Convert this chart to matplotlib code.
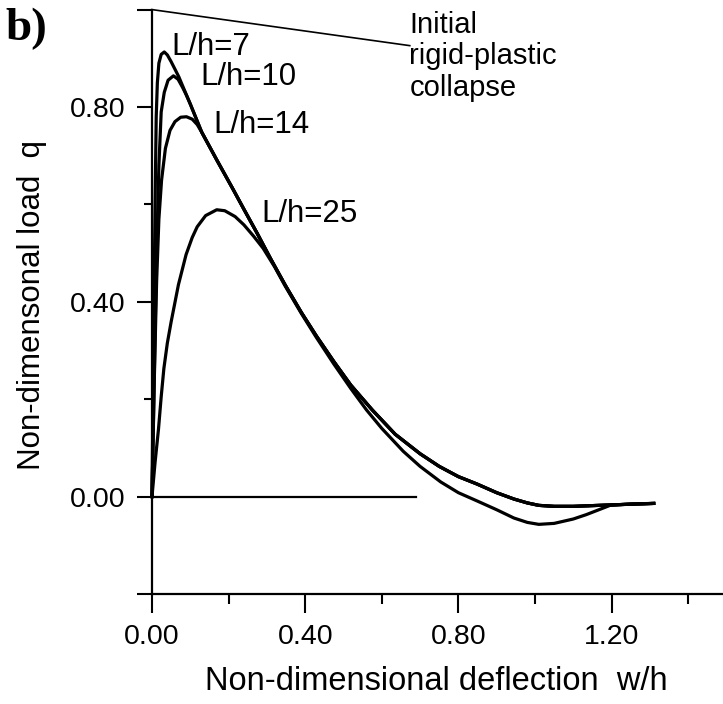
import matplotlib
matplotlib.use("Agg")
import matplotlib.pyplot as plt

plt.rcParams['font.family'] = ['Liberation Sans', 'DejaVu Sans']

# shared descending branch (curves merge here)
w_env = [0.13, 0.17, 0.211, 0.24, 0.275, 0.31, 0.348, 0.39, 0.429, 0.475, 0.519,
         0.575, 0.635, 0.70, 0.75, 0.80, 0.848, 0.90, 0.945, 0.98, 1.01, 1.05,
         1.10, 1.20, 1.31]
q_env = [0.748, 0.690, 0.632, 0.590, 0.540, 0.488, 0.434, 0.378, 0.330, 0.277, 0.229,
         0.178, 0.128, 0.088, 0.062, 0.041, 0.026, 0.008, -0.005, -0.013, -0.018, -0.020,
         -0.020, -0.017, -0.014]

# L/h = 7
w7 = [0.0, 0.004, 0.008, 0.011, 0.014, 0.018, 0.024, 0.032, 0.04, 0.05, 0.07, 0.10]
q7 = [0.0, 0.30, 0.60, 0.78, 0.85, 0.89, 0.908, 0.913, 0.907, 0.893, 0.862, 0.806]

# L/h = 10
w10 = [0.0, 0.006, 0.012, 0.018, 0.024, 0.032, 0.042, 0.056, 0.068, 0.08, 0.09, 0.10]
q10 = [0.0, 0.25, 0.50, 0.68, 0.79, 0.83, 0.855, 0.864, 0.857, 0.84, 0.824, 0.806]

# L/h = 14
w14 = [0.0, 0.006, 0.012, 0.018, 0.025, 0.035, 0.047, 0.06, 0.075, 0.09, 0.105, 0.118]
q14 = [0.0, 0.24, 0.44, 0.57, 0.65, 0.715, 0.752, 0.77, 0.779, 0.78, 0.775, 0.764]

# L/h = 25 (own path all the way)
w25 = [0.0, 0.008, 0.017, 0.024, 0.031, 0.04, 0.05, 0.069, 0.089, 0.105, 0.118, 0.14,
       0.169, 0.19, 0.217, 0.24, 0.265, 0.29, 0.32, 0.348, 0.39, 0.429, 0.475, 0.519,
       0.56, 0.60, 0.656, 0.70, 0.754, 0.80, 0.849, 0.90, 0.945, 0.98, 1.01, 1.05,
       1.10, 1.134, 1.17, 1.196, 1.25, 1.31]
q25 = [0.0, 0.07, 0.139, 0.205, 0.263, 0.315, 0.359, 0.435, 0.497, 0.532, 0.554, 0.577,
       0.589, 0.587, 0.575, 0.558, 0.535, 0.510, 0.472, 0.432, 0.376, 0.327, 0.272, 0.222,
       0.178, 0.140, 0.093, 0.062, 0.030, 0.008, -0.009, -0.027, -0.044, -0.053, -0.057, -0.055,
       -0.046, -0.037, -0.026, -0.018, -0.015, -0.014]

# initial rigid-plastic collapse line and zero line
w_rp = [0.0, 0.673]
q_rp = [1.0, 0.926]
w_zero = [0.0, 0.69]
q_zero = [0.0, 0.0]

labels = ['L/h=7', 'L/h=10', 'L/h=14', 'L/h=25']
label_w = [0.051, 0.126, 0.161, 0.286]
label_q = [0.924, 0.862, 0.764, 0.581]

fig = plt.figure(figsize=(7.23, 7.04), dpi=100)
ax = fig.add_axes([152 / 723, 110 / 704, 1.49 * 383 / 723, 1.2 * 487 / 704])

lw = 2.3
ax.plot(w7 + w_env, q7 + q_env, color='black', lw=lw, clip_on=False)
ax.plot(w10 + w_env, q10 + q_env, color='black', lw=lw, clip_on=False)
ax.plot(w14 + w_env, q14 + q_env, color='black', lw=lw, clip_on=False)
ax.plot(w25, q25, color='black', lw=lw, clip_on=False)
ax.plot(w_rp, q_rp, color='black', lw=1.2, clip_on=False)
ax.plot(w_zero, q_zero, color='black', lw=1.6)

for t, x, y in zip(labels, label_w, label_q):
    ax.text(x, y, t, fontsize=22.5, ha='left', va='center')

ax.text(0.672, 0.997, 'Initial\nrigid-plastic\ncollapse', fontsize=21,
        ha='left', va='top', linespacing=1.15)

ax.set_xlim(0, 1.49)
ax.set_ylim(-0.2, 1.0)
ax.spines['top'].set_visible(False)
ax.spines['right'].set_visible(False)
ax.spines['left'].set_linewidth(1.6)
ax.spines['bottom'].set_linewidth(1.6)

ax.set_xticks([0.0, 0.4, 0.8, 1.2])
ax.set_xticklabels(['0.00', '0.40', '0.80', '1.20'])
ax.set_xticks([0.2, 0.6, 1.0, 1.4], minor=True)
ax.set_yticks([-0.2, 0.0, 0.4, 0.8, 1.0])
ax.set_yticklabels(['', '0.00', '0.40', '0.80', ''])
ax.set_yticks([0.2, 0.6], minor=True)

ax.tick_params(axis='x', which='major', direction='out', length=13.5, width=1.5,
               labelsize=20.5, pad=8)
ax.tick_params(axis='x', which='minor', direction='out', length=7, width=1.5)
ax.tick_params(axis='y', which='major', direction='out', length=11, width=1.5,
               labelsize=20.5, pad=8)
ax.tick_params(axis='y', which='minor', direction='out', length=6, width=1.5)

fig.text(436 / 723, 1 - 690 / 704, 'Non-dimensional deflection  w/h', fontsize=23.5,
         ha='center', va='baseline')
fig.text(32 / 723, 1 - 305 / 704, 'Non-dimensonal load  q', fontsize=22.5,
         ha='center', va='center', rotation=90)
fig.text(5 / 723, 1 - 40 / 704, 'b)', fontsize=34, fontweight='bold',
         family=['Liberation Serif', 'DejaVu Serif'], ha='left', va='baseline')

fig.savefig('out.png', dpi=100)
